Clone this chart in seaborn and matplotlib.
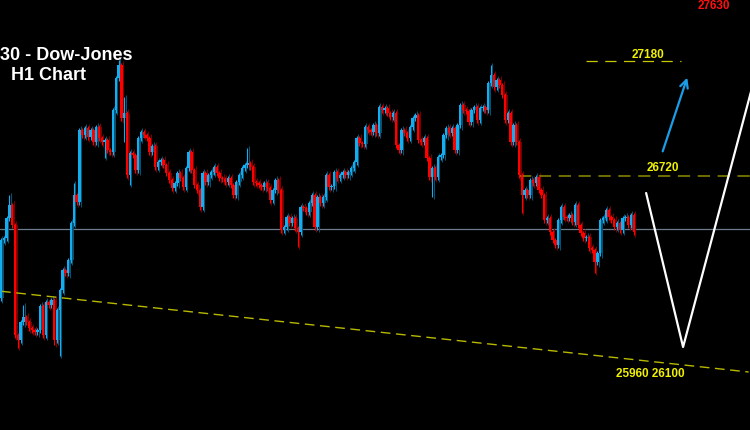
import matplotlib
matplotlib.use("Agg")
import matplotlib.pyplot as plt
import numpy as np
import pandas as pd
import seaborn as sns

# H1 closes (index 0 = first bar on the chart), opens follow the previous close
first_open = 26233
closes = [
    26465, 26473, 26553, 26605, 26525, 26085, 26065, 26137, 26157, 26137,
    26113, 26105, 26097, 26105, 26201, 26085, 26217, 26205, 26225, 26065,
    26185, 26265, 26345, 26333, 26385, 26533, 26645, 26617, 26905, 26885,
    26913, 26877, 26905, 26857, 26917, 26873, 26857, 26865, 26825, 26817,
    26985, 27113, 27165, 26953, 26973, 26725, 26813, 26805, 26745, 26873,
    26897, 26885, 26873, 26817, 26841, 26757, 26777, 26785, 26765, 26733,
    26705, 26673, 26693, 26733, 26713, 26677, 26753, 26817, 26745, 26685,
    26665, 26597, 26733, 26697, 26725, 26737, 26757, 26733, 26713, 26709,
    26697, 26713, 26685, 26645, 26697, 26725, 26753, 26765, 26773, 26757,
    26697, 26693, 26685, 26677, 26693, 26673, 26625, 26665, 26705, 26665,
    26505, 26517, 26557, 26533, 26553, 26513, 26497, 26597, 26593, 26577,
    26613, 26645, 26517, 26637, 26613, 26637, 26725, 26677, 26681, 26737,
    26713, 26725, 26737, 26725, 26737, 26753, 26777, 26873, 26853, 26849,
    26917, 26905, 26897, 26925, 26893, 26997, 26985, 26993, 26973, 26957,
    26973, 26845, 26825, 26905, 26893, 26873, 26917, 26953, 26965, 26865,
    26857, 26873, 26793, 26717, 26753, 26717, 26797, 26805, 26885, 26913,
    26893, 26913, 26825, 26925, 27005, 26985, 26981, 26937, 26985, 26997,
    26945, 26993, 26997, 26985, 27093, 27125, 27077, 27105, 27085, 27045,
    26945, 26973, 26857, 26925, 26857, 26725, 26645, 26665, 26645, 26705,
    26693, 26717, 26665, 26645, 26545, 26553, 26497, 26465, 26445, 26545,
    26597, 26557, 26553, 26565, 26537, 26605, 26525, 26493, 26473, 26477,
    26433, 26425, 26377, 26413, 26545, 26553, 26585, 26557, 26545, 26517,
    26533, 26505, 26553, 26557, 26525, 26565, 26497,
]
# bars with a long shadow: index -> (high, low); None keeps the body-based end
long_wicks = {
    3: (26645, None), 6: (None, 26033), 8: (26205, None), 19: (None, 26045),
    21: (None, 26000), 26: (26693, None), 37: (None, 26793), 42: (27185, None),
    44: (27037, 26857), 46: (None, 26685), 88: (26833, None), 106: (None, 26437),
    154: (None, 26637), 175: (27165, None), 186: (None, 26573), 212: (None, 26333),
}
WICK_PAD = 10

# drawn levels and projection
current_price = 26510
level_hi, level_mid = 27180, 26720
trend_x, trend_y = [0, 267], [26260, 25937]
proj_x, proj_y = [230.4, 243.6, 268.2], [26653, 26037, 27073]
arrow_from, arrow_to = (236, 26809), (245.4, 27125)

UP, DOWN = "#12aef0", "#ff0000"
UP_DIM, DOWN_DIM = "#0b4f70", "#7a0000"

opens = [first_open] + closes[:-1]
df = pd.DataFrame({"open": opens, "close": closes})
df["bar"] = np.arange(len(df))
df["high"] = df[["open", "close"]].max(axis=1) + WICK_PAD
df["low"] = df[["open", "close"]].min(axis=1) - WICK_PAD
for i, (h, l) in long_wicks.items():
    if h is not None:
        df.loc[i, "high"] = h
    if l is not None:
        df.loc[i, "low"] = l
rising = df["close"] >= df["open"]
df["color"] = np.where(rising, UP, DOWN)
df["dim"] = np.where(rising, UP_DIM, DOWN_DIM)
body = (df["close"] - df["open"]).where(lambda s: s.abs() > 2, 3)

sns.set_theme(style="dark", rc={"axes.facecolor": "black", "figure.facecolor": "black"})
plt.rcParams["font.family"] = ["Liberation Sans", "DejaVu Sans"]

fig = plt.figure(figsize=(7.5, 4.3), dpi=100)
ax = fig.add_axes([0, 0, 1, 1])
ax.set_facecolor("black")

# shadow copy of the bars (the terminal draws a dimmed second series)
ax.vlines(df["bar"] + 0.5, df["low"] - 8, df["high"] + 8, colors=df["dim"],
          linewidth=0.8, zorder=2)
ax.bar(df["bar"] + 0.5, body, bottom=df["open"], width=0.8, color=df["dim"],
       linewidth=0, zorder=2)

# candles
ax.vlines(df["bar"], df["low"], df["high"], colors=df["color"], linewidth=0.8, zorder=3)
ax.bar(df["bar"], body, bottom=df["open"], width=0.8, color=df["color"],
       linewidth=0, zorder=4)

# price line
ax.axhline(current_price, color="#6c7c8c", linewidth=0.9, zorder=1)

# levels
sns.lineplot(x=[209, 243], y=[level_hi, level_hi], ax=ax, color="#c8c800",
             linewidth=0.9, dashes=(9, 6), zorder=2)
sns.lineplot(x=[185, 268], y=[level_mid, level_mid], ax=ax, color="#8c8c00",
             linewidth=1.1, dashes=(8, 5), zorder=2)
sns.lineplot(x=trend_x, y=trend_y, ax=ax, color="#b8b800",
             linewidth=1.0, dashes=(7, 4), zorder=2)

# projection
sns.lineplot(x=proj_x, y=proj_y, ax=ax, color="white", linewidth=1.6,
             sort=False, zorder=5)
ax.annotate("", xy=arrow_to, xytext=arrow_from,
            arrowprops=dict(arrowstyle="->", color="#1a9ee8", lw=1.6,
                            mutation_scale=14), zorder=5)

lbl = dict(color="#f0f000", fontsize=8.5, fontweight="bold", ha="center", va="center")
ax.text(231, 27205, "27180", **lbl)
ax.text(236.5, 26753, "26720", **lbl)
ax.text(232, 25929, "25960 26100", **lbl)
ax.text(254.6, 27424, "27630", color="#ff1010", fontsize=8.5, fontweight="bold",
        ha="center", va="top")

fig.text(0.0, 1 - 56 / 430, "30 - Dow-Jones", color="white", fontsize=13,
         fontweight="bold", ha="left", va="center")
fig.text(11 / 750, 1 - 76 / 430, "H1 Chart", color="white", fontsize=13,
         fontweight="bold", ha="left", va="center")

ax.set_xlim(-0.36, 267.5)
ax.set_ylim(25705, 27425)
ax.set_xticks([])
ax.set_yticks([])
ax.set_xlabel("")
ax.set_ylabel("")
for s in ax.spines.values():
    s.set_visible(False)
legend = ax.get_legend()
if legend:
    legend.remove()

fig.savefig("out.png", dpi=100, facecolor="black")
